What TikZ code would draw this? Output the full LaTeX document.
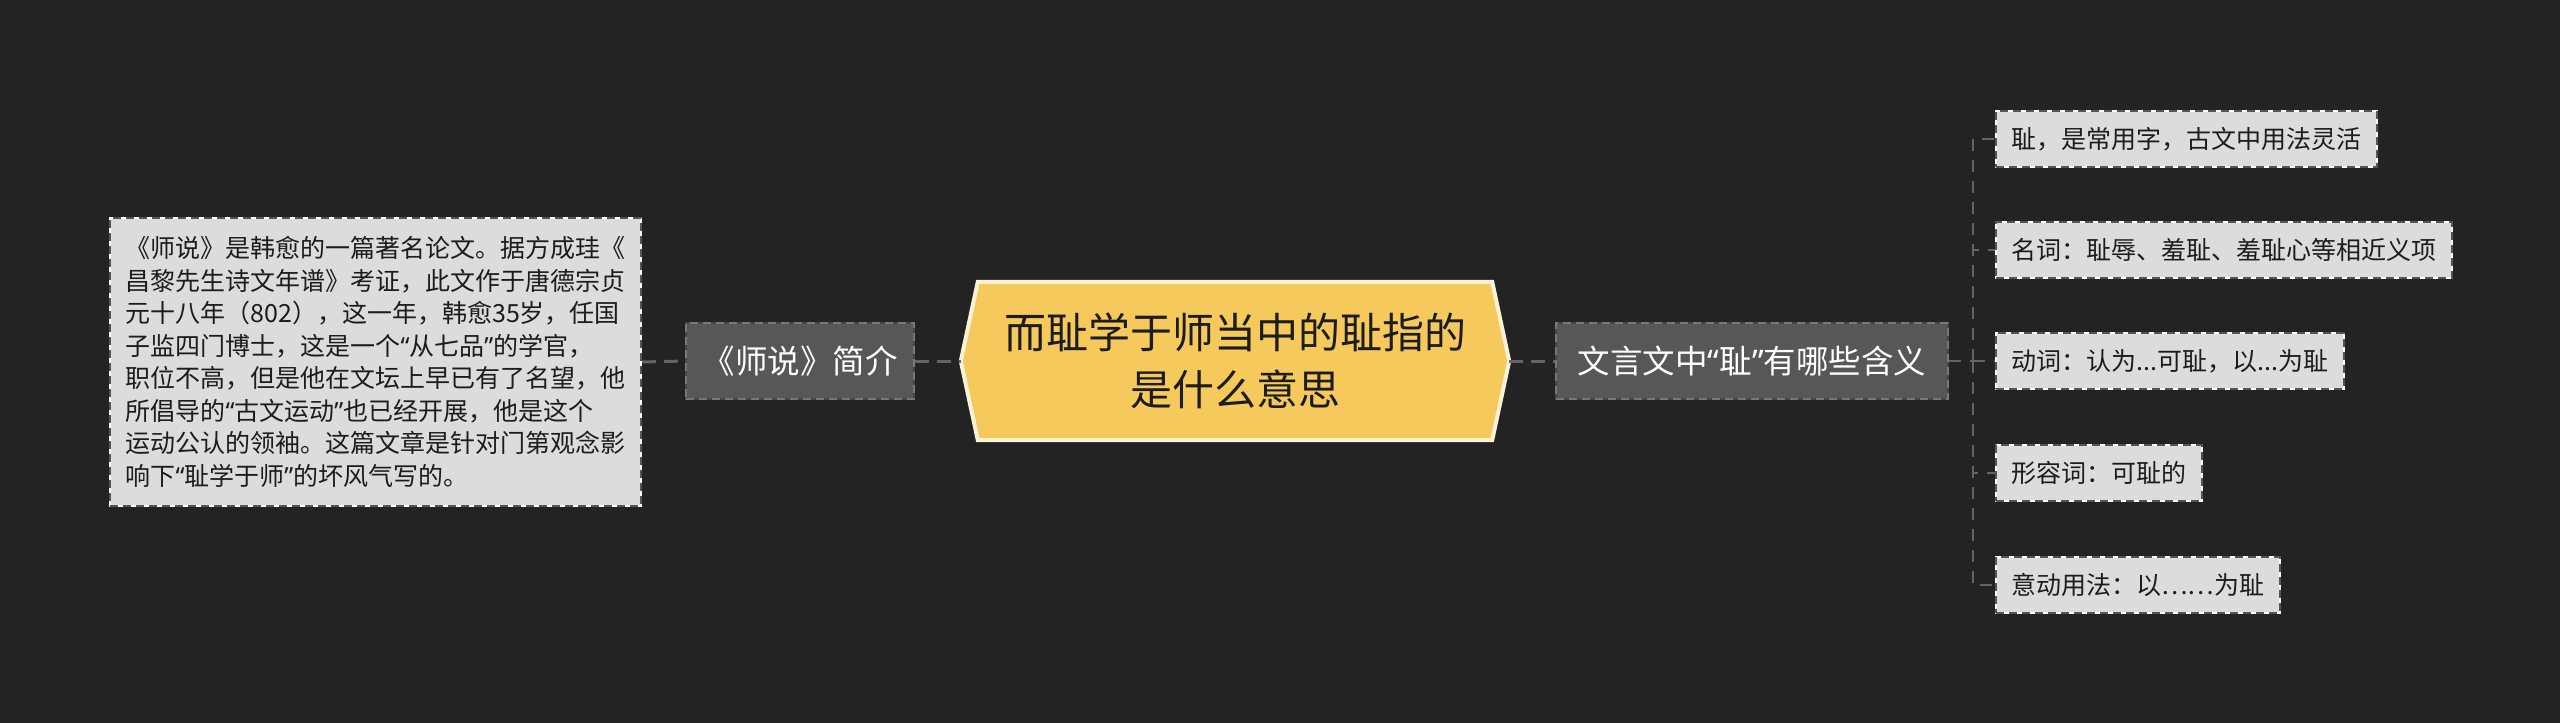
\documentclass[tikz,border=0pt]{standalone}
\usepackage{fontspec}
\setmainfont{Noto Sans CJK SC}
\newfontfamily\quotefont{Noto Sans}
\newcommand\qopen{{\quotefont “}}
\newcommand\qclose{{\quotefont ”}}
\usetikzlibrary{backgrounds}
\definecolor{bgc}{HTML}{232323}
\definecolor{linec}{HTML}{646464}
\definecolor{leaffill}{HTML}{DCDCDC}
\definecolor{leafdash}{HTML}{555555}
\definecolor{midfill}{HTML}{595755}
\definecolor{middash}{HTML}{7A7875}
\definecolor{hexfill}{HTML}{F5C95C}
\definecolor{hexborder}{HTML}{FBF2D6}
\definecolor{darktext}{HTML}{1C1C1C}
\begin{document}
\begin{tikzpicture}[x=1pt,y=-1pt,
  leafbox/.style={draw=white, line width=2pt, fill=leaffill, text=darktext,
    postaction={draw=leafdash, line width=2pt, dash pattern=on 8pt off 5pt},
    font=\fontsize{25}{32.5}\selectfont, inner xsep=15.5pt, inner ysep=0pt,
    minimum height=56pt, anchor=west},
  midbox/.style={draw=midfill!80!black, line width=2pt, fill=midfill, text=white,
    postaction={draw=middash, line width=2pt, dash pattern=on 8pt off 5pt},
    font=\fontsize{32.5}{40}\selectfont, inner sep=0pt, minimum height=76pt},
  conn/.style={draw=linec, line width=3pt, dash pattern=on 14pt off 8pt},
  spine/.style={draw=linec, line width=2.5pt, dash pattern=on 12pt off 9pt}]
\useasboundingbox (0,0) rectangle (2560,723);

% left description box
\node[leafbox, anchor=north west, minimum width=531pt, minimum height=288pt,
  text width=500pt, align=left, inner xsep=15.5pt] (intro) at (109,217)
  {《师说》是韩愈的一篇著名论文。据方成珪《\\
   昌黎先生诗文年谱》考证，此文作于唐德宗贞\\
   元十八年（802），这一年，韩愈35岁，任国\\
   子监四门博士，这是一个\qopen 从七品\qclose 的学官，\\
   职位不高，但是他在文坛上早已有了名望，他\\
   所倡导的\qopen 古文运动\qclose 也已经开展，他是这个\\
   运动公认的领袖。这篇文章是针对门第观念影\\
   响下\qopen 耻学于师\qclose 的坏风气写的。};

% mid boxes
\node[midbox, minimum width=228pt] (shishuo) at (800,361) {《师说》简介};
\node[midbox, minimum width=392pt] (wenyan) at (1752,361) {文言文中\qopen 耻\qclose 有哪些含义};

% center
\node[minimum width=548pt, minimum height=158pt, inner sep=0pt, align=center,
  text=darktext, font=\fontsize{42}{57}\selectfont] (center) at (1235,361)
  {而耻学于师当中的耻指的\\是什么意思};
\begin{scope}[on background layer]
  \fill[bgc] (0,0) rectangle (2560,723);
  \filldraw[fill=hexfill, draw=hexborder, line width=4pt, line join=miter]
    (center.west) -- ([xshift=17pt]center.north west) -- ([xshift=-17pt]center.north east)
    -- (center.east) -- ([xshift=-17pt]center.south east) -- ([xshift=17pt]center.south west) -- cycle;
\end{scope}

% leaves
\node[leafbox] (l1) at (1995,139) {耻，是常用字，古文中用法灵活};
\node[leafbox] (l2) at (1995,250) {名词：耻辱、羞耻、羞耻心等相近义项};
\node[leafbox] (l3) at (1995,361) {动词：认为...可耻，以...为耻};
\node[leafbox] (l4) at (1995,473) {形容词：可耻的};
\node[leafbox] (l5) at (1995,585) {意动用法：以……为耻};

% connectors
\coordinate (sp) at (1973,361);
\draw[conn] (intro.east) -- (shishuo.west);
\draw[conn] (shishuo.east) -- (center.west);
\draw[conn] (center.east) -- (wenyan.west);
\draw[spine] (wenyan.east) -- (sp);
\foreach \k in {l1,l2,l3,l4,l5}{
  \draw[spine] (sp) |- (\k.west);
}
\end{tikzpicture}
\end{document}
